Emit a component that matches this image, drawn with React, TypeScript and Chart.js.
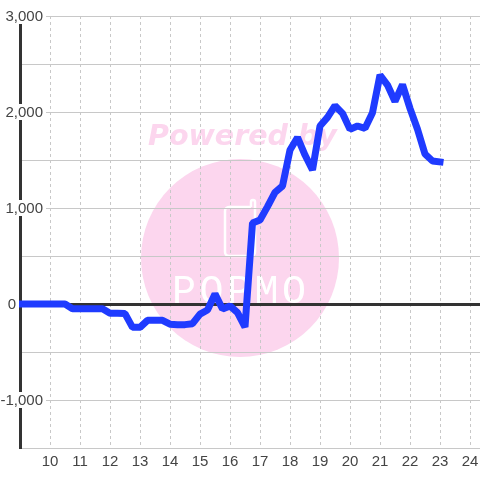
import React, { useEffect, useRef } from "react";
import { Chart, registerables } from "chart.js";

Chart.register(...registerables);

const hours = [9,9.25,9.5,9.75,10,10.25,10.5,10.75,11,11.25,11.5,11.75,12,12.25,12.5,12.75,13,13.25,13.5,13.75,14,14.25,14.5,14.75,15,15.25,15.5,15.75,16,16.25,16.5,16.75,17,17.25,17.5,17.75,18,18.25,18.5,18.75,19,19.25,19.5,19.75,20,20.25,20.5,20.75,21,21.25,21.5,21.75,22,22.25,22.5,22.75,23];
const values = [0,0,0,0,0,0,0,-50,-50,-50,-50,-50,-97,-97,-100,-243,-243,-170,-170,-170,-210,-215,-215,-205,-105,-62,105,-52,-20,-90,-240,843,875,1014,1163,1229,1604,1735,1552,1396,1854,1944,2065,1986,1819,1854,1830,1993,2385,2281,2110,2285,2038,1820,1562,1490,1480];
const yTickLabels = [
  { value: 3000, text: "3,000", right: 43 },
  { value: 2000, text: "2,000", right: 43 },
  { value: 1000, text: "1,000", right: 43 },
  { value: 0, text: "0", right: 16 },
  { value: -1000, text: "-1,000", right: 43 },
];
const xTicks = [10,11,12,13,14,15,16,17,18,19,20,21,22,23,24];
const PINK = "#fcd6ee";

const watermark = {
  id: "watermark",
  beforeDraw(chart: any) {
    const { ctx } = chart;
    ctx.save();
    ctx.fillStyle = "#ffffff";
    ctx.fillRect(0, 0, 480, 480);
    ctx.fillStyle = PINK;
    ctx.beginPath();
    ctx.arc(240, 258, 99, 0, Math.PI * 2);
    ctx.fill();
    ctx.font = "italic bold 28.5px 'DejaVu Sans'";
    ctx.textAlign = "left";
    ctx.textBaseline = "alphabetic";
    ctx.fillText("Powered by", 148, 145);
    ctx.strokeStyle = "#ffffff";
    ctx.lineWidth = 2.5;
    ctx.lineJoin = "round";
    ctx.beginPath();
    ctx.moveTo(251, 207);
    ctx.lineTo(229, 207);
    ctx.arcTo(225, 207, 225, 211, 4);
    ctx.lineTo(225, 252);
    ctx.arcTo(225, 256, 229, 256, 4);
    ctx.lineTo(251, 256);
    ctx.arcTo(255, 256, 255, 252, 4);
    ctx.lineTo(255, 202);
    ctx.arcTo(255, 200, 253, 200, 2);
    ctx.arcTo(251, 200, 251, 202, 2);
    ctx.lineTo(251, 207);
    ctx.stroke();
    ctx.fillStyle = "#ffffff";
    ctx.font = "40px 'Liberation Mono'";
    ctx.textAlign = "left";
    (ctx as any).letterSpacing = "3.5px";
    ctx.fillText("POPMO", 172, 303);
    ctx.restore();
  },
};

const yLabels = {
  id: "yLabels",
  afterDatasetsDraw(chart: any) {
    const { ctx, scales } = chart;
    ctx.save();
    ctx.font = "15px 'Liberation Sans'";
    ctx.textBaseline = "middle";
    ctx.textAlign = "right";
    for (const t of yTickLabels) {
      const y = scales.y.getPixelForValue(t.value);
      const w = ctx.measureText(t.text).width;
      ctx.fillStyle = "#ffffff";
      ctx.fillRect(t.right - w - 2, y - 8, w + 5, 16);
      ctx.fillStyle = "#444444";
      ctx.fillText(t.text, t.right, y + 1);
    }
    ctx.restore();
  },
};

export default function App() {
  const ref = useRef<HTMLCanvasElement>(null);
  useEffect(() => {
    document.body.style.margin = "0";
    const chart = new Chart(ref.current!, {
      type: "line",
      data: {
        datasets: [
          {
            data: hours.map((h, i) => ({ x: h, y: values[i] })),
            borderColor: "#1f3bff",
            borderWidth: 7,
            borderCapStyle: "square",
            borderJoinStyle: "bevel",
            pointRadius: 0,
            tension: 0,
            clip: false,
          },
        ],
      },
      options: {
        animation: false,
        responsive: false,
        devicePixelRatio: 1,
        layout: { padding: { top: 16, left: 0, right: 0, bottom: 0 } },
        plugins: { legend: { display: false }, tooltip: { enabled: false } },
        scales: {
          x: {
            type: "linear",
            min: 9,
            max: 24.3333,
            afterBuildTicks(scale: any) {
              scale.ticks = xTicks.map((value) => ({ value }));
            },
            grid: {
              color: "#c8c8c8",
              lineWidth: 1,
              drawTicks: false,
            },
            border: { dash: [3, 3], display: false },
            ticks: {
              color: "#444444",
              font: { family: "'Liberation Sans'", size: 15 },
              padding: 5,
              maxRotation: 0,
              autoSkip: false,
              callback: (v: any) => String(v),
            },
            afterFit(scale: any) {
              scale.height = 32;
              scale.paddingLeft = 0;
              scale.paddingRight = 0;
            },
          },
          y: {
            type: "linear",
            min: -1500,
            max: 3000,
            afterBuildTicks(scale: any) {
              const t = [];
              for (let v = -1500; v <= 3000; v += 500) t.push({ value: v });
              scale.ticks = t;
            },
            grid: {
              color: (c: any) => (c.tick && c.tick.value === 0 ? "#333333" : "#c8c8c8"),
              lineWidth: (c: any) => (c.tick && c.tick.value === 0 ? 3 : 1),
              drawTicks: false,
            },
            border: { color: "#333333", width: 3 },
            ticks: { display: false },
            afterFit(scale: any) {
              scale.width = 20;
              scale.paddingTop = 0;
              scale.paddingBottom = 0;
            },
          },
        },
      },
      plugins: [watermark, yLabels],
    } as any);
    return () => chart.destroy();
  }, []);
  return <canvas ref={ref} width={480} height={480} style={{ display: "block" }} />;
}
